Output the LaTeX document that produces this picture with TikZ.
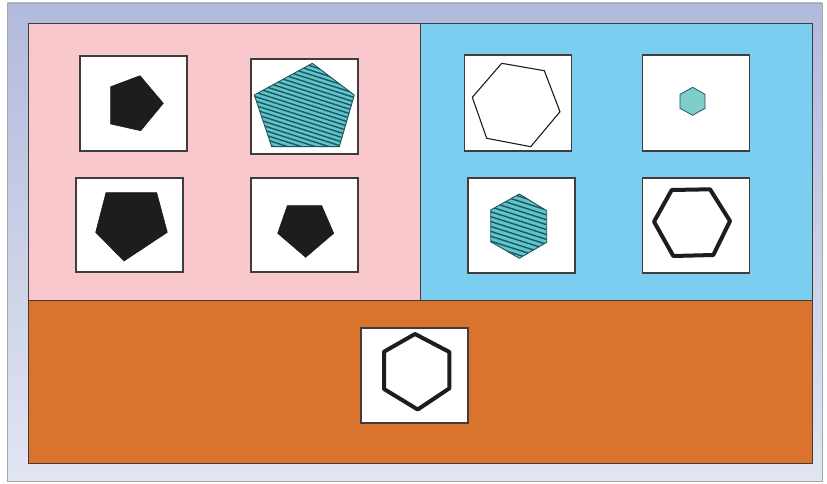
\documentclass[tikz,border=0pt]{standalone}
\usetikzlibrary{positioning}
\definecolor{pinkbg}{RGB}{248,200,204}
\definecolor{bluebg}{RGB}{124,206,240}
\definecolor{orangebg}{RGB}{217,115,45}
\definecolor{frametop}{RGB}{178,186,220}
\definecolor{framebot}{RGB}{226,229,242}
\definecolor{edge}{RGB}{64,60,60}
\definecolor{tealfill}{RGB}{92,198,202}
\definecolor{lightteal}{RGB}{126,207,203}
\definecolor{stripec}{RGB}{34,84,96}
\definecolor{ink}{RGB}{28,30,30}
\tikzset{
  panel/.style={draw=edge, line width=0.9pt, inner sep=0pt, outer sep=0pt},
  imgbox/.style={draw=edge, fill=white, line width=1.4pt, inner sep=0pt, outer sep=0pt},
  solidshape/.style={fill=ink, draw=ink, line width=0.6pt, line join=round},
  thinhex/.style={draw=ink, fill=white, line width=1.1pt, line join=round},
  thickhex/.style={draw=ink, fill=white, line width=4pt, line join=round},
  hatchedge/.style={draw=stripec, line width=0.9pt, line join=round},
  stripe/.style={draw=stripec, line width=1.4pt}
}
\begin{document}
\begin{tikzpicture}[x=1pt,y=-1pt]
\useasboundingbox (0,0) rectangle (827,484);
\fill[white] (0,0) rectangle (827,484);
% outer frame
\shade[top color=frametop, bottom color=framebot] (7,3) rectangle (822,481);
\draw[gray!70, line width=0.8pt] (7,3) rectangle (822,481);
% panels
\node[panel, fill=pinkbg, minimum width=392pt, minimum height=277pt] (pinkp) at (224,161.5) {};
\node[panel, fill=bluebg, minimum width=392pt, minimum height=277pt] (bluep) at (616,161.5) {};
\node[panel, fill=orangebg, minimum width=784pt, minimum height=163pt] (orangep) at (420,381.5) {};
% image boxes
\node[imgbox, minimum width=107pt, minimum height=95pt] (b1) at (133.5,103.5) {};
\node[imgbox, minimum width=107pt, minimum height=95pt] (b2) at (304.5,106.5) {};
\node[imgbox, minimum width=107pt, minimum height=94pt] (b3) at (129.5,225) {};
\node[imgbox, minimum width=107pt, minimum height=94pt] (b4) at (304.5,225) {};
\node[imgbox, minimum width=107pt, minimum height=96pt] (b5) at (517.8,103) {};
\node[imgbox, minimum width=107pt, minimum height=96pt] (b6) at (696.2,103) {};
\node[imgbox, minimum width=107pt, minimum height=95pt] (b7) at (521.5,225.5) {};
\node[imgbox, minimum width=107pt, minimum height=95pt] (b8) at (696.2,225.5) {};
\node[imgbox, minimum width=107pt, minimum height=95pt] (b9) at (414.5,375.5) {};
% box 1: black pentagon pointing right
\path[solidshape] (110.7,86.7) -- (140,75.7) -- (163.3,103.3) -- (140.7,130.7) -- (110.7,124) -- cycle;
% box 2: hatched pentagon
\begin{scope}
  \clip (312.3,63.3) -- (354.3,95) -- (339.3,146.7) -- (271.7,146.7) -- (254.3,95) -- cycle;
  \fill[tealfill] (250,60) rectangle (358,150);
  \foreach \k in {-28,...,28}{
    \draw[stripe] (244,{105+4.4*\k-0.32*65}) -- (374,{105+4.4*\k+0.32*65});
  }
\end{scope}
\path[hatchedge] (312.3,63.3) -- (354.3,95) -- (339.3,146.7) -- (271.7,146.7) -- (254.3,95) -- cycle;
% box 3: big black pentagon
\path[solidshape] (106,192.7) -- (156.7,192.7) -- (167.3,232.3) -- (124,261) -- (95.7,232.3) -- cycle;
% box 4: smaller black pentagon
\path[solidshape] (287.3,205.7) -- (321.7,205.7) -- (333.7,233.3) -- (305.7,257.3) -- (277.7,233.3) -- cycle;
% box 5: large thin hexagon
\path[thinhex] (501.7,63.3) -- (544.3,70.7) -- (560,111.7) -- (530.7,146.7) -- (486.7,138.3) -- (472.3,97.3) -- cycle;
% box 6: small teal hexagon
\path[draw=stripec, fill=lightteal, line width=0.8pt, line join=round] (692.7,87.3) -- (705,94.3) -- (705,108.3) -- (692.7,115.3) -- (680,108.3) -- (680,94.3) -- cycle;
% box 7: hatched hexagon
\begin{scope}
  \clip (519.3,194) -- (546.7,210.7) -- (546.7,242.3) -- (519.3,258.3) -- (490.7,241.7) -- (490.7,210) -- cycle;
  \fill[tealfill] (488,190) rectangle (550,262);
  \foreach \k in {-20,...,20}{
    \draw[stripe] (470,{226+4.9*\k-0.32*50}) -- (570,{226+4.9*\k+0.32*50});
  }
\end{scope}
\path[hatchedge] (519.3,194) -- (546.7,210.7) -- (546.7,242.3) -- (519.3,258.3) -- (490.7,241.7) -- (490.7,210) -- cycle;
% box 8: thick hexagon
\path[thickhex] (671.7,190) -- (710,189.3) -- (730,221) -- (713.3,255) -- (673.3,256) -- (654,221.7) -- cycle;
% box 9: tall thick hexagon
\path[thickhex] (415,334) -- (449.4,352) -- (449.4,388.3) -- (417.7,409.5) -- (384,389) -- (384,351.7) -- cycle;
\end{tikzpicture}
\end{document}
